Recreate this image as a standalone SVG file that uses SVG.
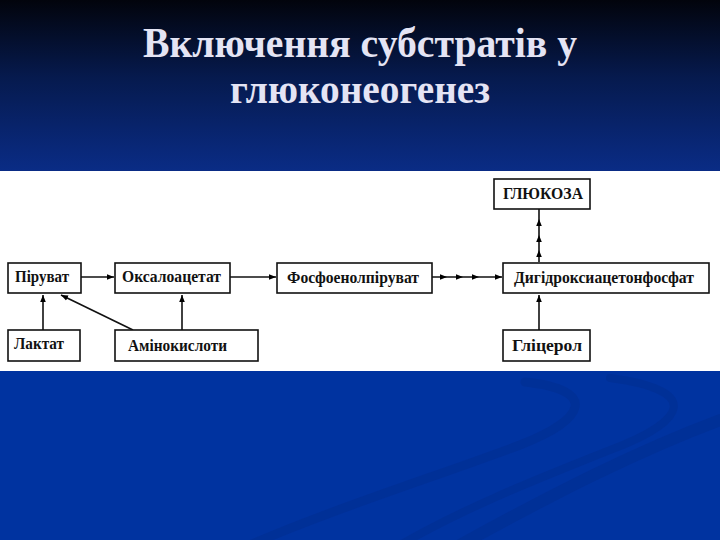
<svg xmlns="http://www.w3.org/2000/svg" width="720" height="540" viewBox="0 0 720 540">
<defs>
<linearGradient id="top" x1="0" y1="0" x2="0" y2="1">
<stop offset="0" stop-color="#02040c"/>
<stop offset="0.45" stop-color="#061a4e"/>
<stop offset="1" stop-color="#0a2c86"/>
</linearGradient>
<marker id="ah" viewBox="0 0 8 8" refX="8" refY="4" markerWidth="7" markerHeight="7" markerUnits="userSpaceOnUse" orient="auto">
<path d="M0,0.8 L8,4 L0,7.2 z" fill="#000"/>
</marker>
<style>
.box{fill:#fff;stroke:#111;stroke-width:1.6}
.lbl{font-family:"Liberation Serif","Times New Roman",serif;font-weight:bold;font-size:16.5px;fill:#111}
.ttl{font-family:"Liberation Serif","Times New Roman",serif;font-weight:bold;font-size:42px;fill:#e4e4f4;text-anchor:middle}
.con{fill:none;stroke:#111;stroke-width:1.6}
</style>
</defs>
<rect x="0" y="0" width="720" height="172" fill="url(#top)"/>
<rect x="0" y="370" width="720" height="170" fill="#0033a0"/>
<g fill="none" stroke="#002a88" stroke-opacity="0.35" stroke-linecap="round">
<path d="M525,382 C600,390 585,420 520,445 C440,475 330,510 250,545" stroke-width="9"/>
<path d="M610,378 C700,390 690,420 610,450 C540,478 470,505 400,545" stroke-width="8"/>
<path d="M720,420 C640,450 560,490 460,545" stroke-width="12"/>
</g>
<rect x="0" y="171" width="720" height="200" fill="#fff"/>
<text class="ttl" x="360" y="57" textLength="434" lengthAdjust="spacingAndGlyphs">Включення субстратів у</text>
<text class="ttl" x="360" y="103" textLength="260" lengthAdjust="spacingAndGlyphs">глюконеогенез</text>
<g id="connectors">
<line class="con" x1="81" y1="277" x2="114" y2="277" marker-end="url(#ah)"/>
<line class="con" x1="230" y1="277" x2="276" y2="277" marker-end="url(#ah)"/>
<polyline class="con" points="432,277 447,277 463,277 479,277 502,277" marker-mid="url(#ah)" marker-end="url(#ah)"/>
<polyline class="con" points="539,262 539,250 539,235 539,219 539,209" marker-mid="url(#ah)"/>
<line class="con" x1="43" y1="330" x2="43" y2="295" marker-end="url(#ah)"/>
<line class="con" x1="133" y1="330" x2="61" y2="295" marker-end="url(#ah)"/>
<line class="con" x1="182" y1="330" x2="182" y2="295" marker-end="url(#ah)"/>
<line class="con" x1="539" y1="330" x2="539" y2="295" marker-end="url(#ah)"/>
</g>
<g id="piruvat"><rect class="box" x="8" y="263" width="73" height="30"/><text class="lbl" x="15" y="282" textLength="54" lengthAdjust="spacingAndGlyphs">Піруват</text></g>
<g id="oksaloacetat"><rect class="box" x="115" y="263" width="115" height="30"/><text class="lbl" x="122" y="282" textLength="99" lengthAdjust="spacingAndGlyphs">Оксалоацетат</text></g>
<g id="fosfoenolpiruvat"><rect class="box" x="277" y="263" width="155" height="30"/><text class="lbl" x="287" y="283" textLength="132" lengthAdjust="spacingAndGlyphs">Фосфоенолпіруват</text></g>
<g id="dyhidroksyacetonfosfat"><rect class="box" x="503" y="263" width="206" height="30"/><text class="lbl" x="514" y="283" textLength="180" lengthAdjust="spacingAndGlyphs">Дигідроксиацетонфосфат</text></g>
<g id="hlukoza"><rect class="box" x="494" y="179" width="96" height="30"/><text class="lbl" x="503" y="199" textLength="80" lengthAdjust="spacingAndGlyphs">ГЛЮКОЗА</text></g>
<g id="laktat"><rect class="box" x="8" y="330" width="72" height="31"/><text class="lbl" x="14" y="349" textLength="50" lengthAdjust="spacingAndGlyphs">Лактат</text></g>
<g id="aminokysloty"><rect class="box" x="115" y="330" width="143" height="31"/><text class="lbl" x="128" y="351" textLength="99" lengthAdjust="spacingAndGlyphs">Амінокислоти</text></g>
<g id="hlicerol"><rect class="box" x="503" y="330" width="87" height="31"/><text class="lbl" x="512" y="351" textLength="70" lengthAdjust="spacingAndGlyphs">Гліцерол</text></g>
</svg>
